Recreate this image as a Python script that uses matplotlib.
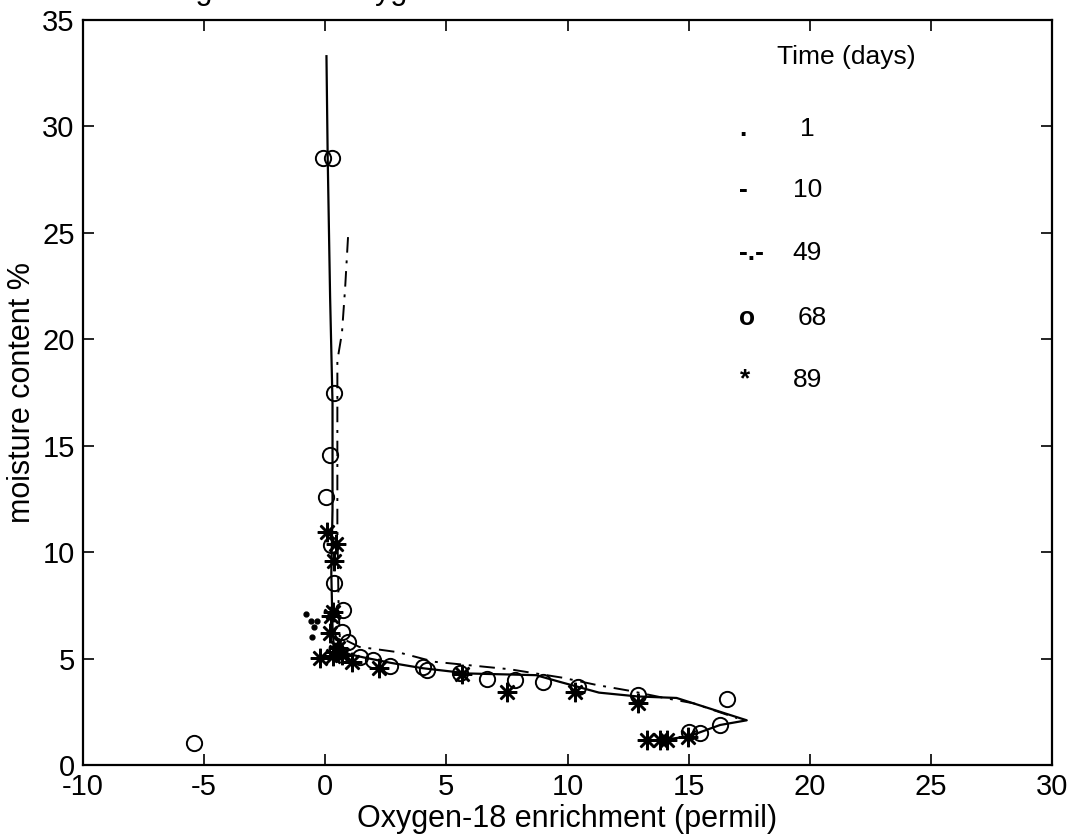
import matplotlib
matplotlib.use("Agg")
import matplotlib.pyplot as plt

plt.rcParams['font.family'] = ['Liberation Sans', 'DejaVu Sans']
plt.rcParams['axes.unicode_minus'] = False

# day 1: scattered points only
d1_x = [-0.8, -0.6, -0.35, -0.46, -0.55]
d1_y = [7.1, 6.75, 6.75, 6.5, 6.0]

# day 10: solid curve
d10_x = [0.05, 0.1, 0.2, 0.3, 0.3, 0.25, 0.3, 0.35, 1.0, 1.6, 2.7, 4.0, 5.9,
         8.7, 9.7, 11.3, 12.9, 14.5, 17.4, 16.3, 15.5, 15.0, 14.1]
d10_y = [33.3, 28.6, 22.0, 17.0, 12.0, 9.0, 6.5, 5.6, 5.2, 5.05, 4.8, 4.55, 4.3,
         4.22, 3.9, 3.4, 3.22, 3.15, 2.1, 1.88, 1.55, 1.35, 1.2]

# day 49: dash-dot curve
d49_x = [0.94, 0.82, 0.69, 0.5, 0.5, 0.5, 0.55, 0.6, 1.4, 3.0, 4.5, 7.6, 9.8,
         11.2, 12.5, 14.0, 15.2, 17.0]
d49_y = [24.8, 22.4, 20.3, 19.0, 15.6, 11.2, 7.5, 6.0, 5.55, 5.3, 4.85, 4.5, 4.1,
         3.76, 3.5, 3.15, 2.9, 2.2]

# day 68: open circles
d68_x = [-5.42, -0.09, 0.28, 0.36, 0.2, 0.03, 0.24, 0.37, 0.73, 0.7, 0.94, 0.5,
         1.43, 1.97, 2.67, 4.03, 4.2, 5.56, 6.68, 7.83, 8.99, 10.43, 12.9, 16.6,
         16.3, 15.47, 15.0]
d68_y = [1.03, 28.5, 28.5, 17.47, 14.56, 12.6, 10.33, 8.55, 7.3, 6.25, 5.78, 5.3,
         5.07, 4.93, 4.65, 4.6, 4.46, 4.3, 4.03, 3.99, 3.9, 3.66, 3.29, 3.1,
         1.88, 1.5, 1.55]

# day 89: asterisks
d89_x = [0.07, 0.44, 0.36, 0.32, 0.22, 0.2, -0.2, 0.53, 0.7, 0.45, 0.3, 1.1, 2.2,
         5.65, 7.5, 10.3, 12.9, 13.3, 13.8, 14.1, 14.97]
d89_y = [10.95, 10.4, 9.6, 7.2, 7.0, 6.2, 5.03, 5.5, 5.17, 5.3, 5.1, 4.85, 4.55,
         4.27, 3.45, 3.45, 2.9, 1.17, 1.17, 1.17, 1.3]

legend_days = ['1', '10', '49', '68', '89']
legend_marks = ['.', '-', '-.-', 'o', '*']

fig = plt.figure(figsize=(10.78, 8.4), dpi=100)
ax = fig.add_axes([83 / 1078, 75 / 840, 969 / 1078, 745 / 840])

ax.plot(d10_x, d10_y, '-', color='black', lw=1.6)
ax.plot(d49_x, d49_y, color='black', lw=1.4, dashes=[8, 4, 1.5, 4])
ax.plot(d1_x, d1_y, 'o', color='black', ms=3.5, ls='none')
ax.plot(d68_x, d68_y, 'o', mfc='none', mec='black', mew=1.4, ms=11, ls='none')
ax.plot(d89_x, d89_y, marker=(8, 2, 0), color='black', mew=1.8, ms=14, ls='none')

ax.set_xlim(-10, 30)
ax.set_ylim(0, 35)
ax.set_xticks(range(-10, 31, 5))
ax.set_yticks(range(0, 36, 5))
ax.tick_params(direction='in', top=True, right=True, length=8, width=1.2,
               labelsize=21, pad=6)
for s in ax.spines.values():
    s.set_linewidth(1.6)

ax.set_xlabel('Oxygen-18 enrichment (permil)', fontsize=22, labelpad=2)
ax.set_ylabel('moisture content %', fontsize=22, labelpad=4)

# hand-written key inside the axes
ax.text(18.65, 33.25, 'Time (days)', fontsize=19, va='center', ha='left')
key_rows = [29.9, 27.0, 24.05, 21.0, 18.1]
key_num_x = [19.6, 19.3, 19.3, 19.5, 19.3]
for mark, day, yy, nx in zip(legend_marks, legend_days, key_rows, key_num_x):
    ax.text(17.1, yy, mark, fontsize=19, va='center', ha='left', fontweight='bold')
    ax.text(nx, yy, day, fontsize=19, va='center', ha='left')

fig.text(0.004, 1 + 1.5 / 840, 'Moisture change versus Oxygen-18 enrichment',
         fontsize=22, va='baseline', ha='left')

fig.savefig('out.png', dpi=100)
